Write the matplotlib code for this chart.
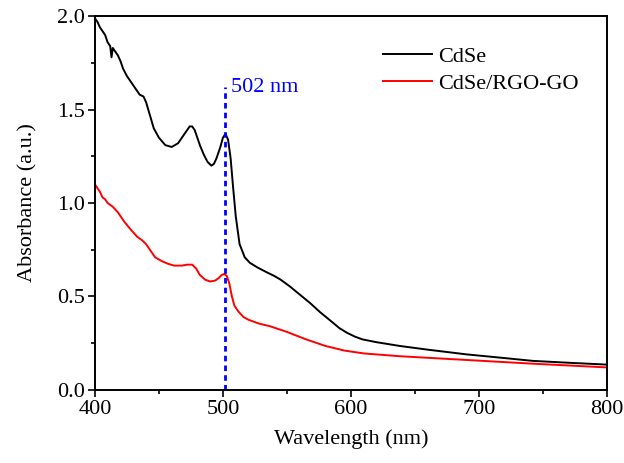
import numpy as np
import matplotlib.pyplot as plt

# --- data ---
wl_cdse = [400, 402, 404, 406, 408, 410, 412, 413, 414, 416, 418, 420, 422, 425,
           428, 431, 435, 438, 440, 443, 446, 450, 455, 460, 465, 468, 471, 474,
           476, 478, 480, 482, 485, 488, 491, 493, 495, 498, 500, 502, 504, 506,
           508, 510, 513, 517, 521, 527, 534, 540, 545, 552, 560, 568, 576, 584,
           591, 597, 603, 609, 620, 638, 660, 690, 720, 742, 770, 800]
abs_cdse = [1.99, 1.97, 1.94, 1.92, 1.90, 1.86, 1.84, 1.78, 1.83, 1.81, 1.79, 1.76,
            1.72, 1.68, 1.65, 1.62, 1.58, 1.57, 1.54, 1.47, 1.40, 1.35, 1.31, 1.30,
            1.32, 1.35, 1.38, 1.41, 1.41, 1.39, 1.35, 1.31, 1.26, 1.22, 1.20, 1.21,
            1.24, 1.30, 1.35, 1.37, 1.34, 1.24, 1.08, 0.93, 0.78, 0.71, 0.68, 0.655,
            0.63, 0.61, 0.59, 0.555, 0.51, 0.465, 0.415, 0.37, 0.33, 0.305, 0.285,
            0.27, 0.255, 0.235, 0.215, 0.19, 0.17, 0.155, 0.145, 0.135]

wl_rgo = [400, 402, 404, 406, 408, 410, 414, 418, 423, 429, 433, 437, 440, 444,
          447, 452, 457, 462, 468, 472, 476, 479, 482, 486, 490, 494, 497, 499,
          501, 503, 505, 507, 509, 512, 516, 520, 528, 537, 550, 565, 580, 595,
          610, 638, 690, 742, 800]
abs_rgo = [1.10, 1.08, 1.06, 1.03, 1.02, 1.00, 0.98, 0.95, 0.90, 0.85, 0.82, 0.80,
           0.78, 0.74, 0.71, 0.69, 0.675, 0.665, 0.665, 0.67, 0.67, 0.65, 0.615,
           0.59, 0.58, 0.585, 0.60, 0.615, 0.62, 0.61, 0.57, 0.50, 0.45, 0.42, 0.39,
           0.375, 0.355, 0.34, 0.31, 0.27, 0.235, 0.21, 0.195, 0.18, 0.16, 0.14, 0.12]

PEAK_NM = 502

plt.rcParams['font.family'] = ['Liberation Serif', 'DejaVu Serif']
plt.rcParams['font.size'] = 16

fig = plt.figure(figsize=(6.24, 4.63), dpi=100)
ax = fig.add_axes([0.152, 0.158, 0.821, 0.807])

ax.plot(wl_cdse, abs_cdse, color='black', lw=1.4, label='CdSe')
ax.plot(wl_rgo, abs_rgo, color='red', lw=1.4, label='CdSe/RGO-GO')
ax.plot([PEAK_NM, PEAK_NM], [0, 1.62], color='blue', lw=2,
        linestyle=(0, (2, 1.5)))
ax.text(PEAK_NM + 4, 1.62, f'{PEAK_NM} nm', color='blue', fontsize=16,
        va='center', ha='left')

ax.set_xlim(400, 800)
ax.set_ylim(0, 2.0)
ax.set_xticks([400, 500, 600, 700, 800])
ax.set_xticks([450, 550, 650, 750], minor=True)
ax.set_yticks([0.0, 0.5, 1.0, 1.5, 2.0])
ax.set_yticks([0.25, 0.75, 1.25, 1.75], minor=True)
ax.set_yticklabels(['0.0', '0.5', '1.0', '1.5', '2.0'])
ax.tick_params(which='major', direction='out', length=5, width=1.2, pad=2)
ax.tick_params(which='minor', direction='out', length=3, width=1.2)
for s in ax.spines.values():
    s.set_linewidth(1.4)

ax.set_xlabel('Wavelength (nm)', labelpad=8)
ax.set_ylabel('Absorbance (a.u.)', labelpad=14)

ax.legend(loc='upper left', frameon=False, handlelength=2.2,
          handletextpad=0.3, labelspacing=0.3, borderpad=0, borderaxespad=0,
          bbox_to_anchor=(0.5625, 0.919))

fig.savefig('out.png', dpi=100)
